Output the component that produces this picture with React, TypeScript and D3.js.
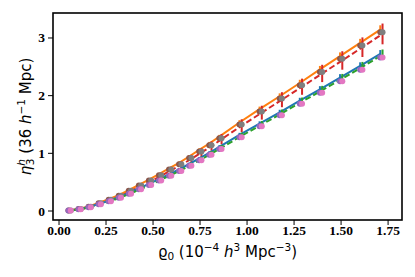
import React from "react";
import * as d3 from "d3";

const width = 415;
const height = 277;
const margin = { top: 13, right: 13, bottom: 57, left: 53 };

// density grid (dense up to 0.855, then every other step)
const rho = [
  0.05, 0.1035, 0.157, 0.2105, 0.264, 0.3175, 0.371, 0.4245, 0.478, 0.5315, 0.585, 0.6385,
  0.692, 0.7455, 0.799, 0.8525, 0.9595, 1.0665, 1.1735, 1.2805, 1.3875, 1.4945, 1.6015, 1.7085,
];

// upper set (orange / red / brown / gray)
const orangeLine = [
  0.012, 0.037, 0.08, 0.14, 0.205, 0.275, 0.36, 0.455, 0.545, 0.64, 0.74, 0.835,
  0.945, 1.06, 1.17, 1.29, 1.535, 1.765, 1.99, 2.22, 2.455, 2.685, 2.915, 3.145,
];
const orangeErr = [
  0.002, 0.003, 0.004, 0.006, 0.008, 0.01, 0.012, 0.014, 0.016, 0.018, 0.02, 0.022,
  0.024, 0.026, 0.028, 0.03, 0.04, 0.045, 0.05, 0.055, 0.06, 0.065, 0.07, 0.075,
];
const redLine = [
  0.01, 0.034, 0.073, 0.132, 0.19, 0.26, 0.345, 0.432, 0.52, 0.61, 0.71, 0.8,
  0.905, 1.015, 1.125, 1.245, 1.48, 1.705, 1.93, 2.155, 2.385, 2.61, 2.84, 3.07,
];
const redErr = [
  0.005, 0.008, 0.012, 0.017, 0.022, 0.028, 0.034, 0.04, 0.046, 0.052, 0.058, 0.064,
  0.07, 0.076, 0.082, 0.09, 0.11, 0.12, 0.13, 0.14, 0.15, 0.16, 0.17, 0.18,
];
const upperPts = [
  0.01, 0.035, 0.075, 0.135, 0.195, 0.265, 0.35, 0.44, 0.53, 0.62, 0.72, 0.81,
  0.92, 1.03, 1.14, 1.26, 1.5, 1.725, 1.95, 2.18, 2.41, 2.64, 2.87, 3.1,
];

// lower set (blue / green / purple / pink)
const blueLine = [
  0.01, 0.032, 0.068, 0.12, 0.178, 0.24, 0.312, 0.39, 0.47, 0.552, 0.635, 0.722,
  0.815, 0.912, 1.01, 1.113, 1.32, 1.515, 1.71, 1.913, 2.11, 2.313, 2.515, 2.725,
];
const blueErr = [
  0.002, 0.003, 0.004, 0.005, 0.007, 0.009, 0.011, 0.013, 0.015, 0.017, 0.019, 0.021,
  0.023, 0.025, 0.027, 0.029, 0.035, 0.04, 0.045, 0.05, 0.055, 0.06, 0.063, 0.066,
];
const greenLine = [
  0.009, 0.031, 0.067, 0.118, 0.175, 0.236, 0.307, 0.384, 0.462, 0.543, 0.625, 0.711,
  0.803, 0.899, 0.996, 1.098, 1.305, 1.5, 1.695, 1.897, 2.095, 2.297, 2.5, 2.71,
];
const greenErr = [
  0.004, 0.006, 0.008, 0.01, 0.013, 0.016, 0.019, 0.022, 0.025, 0.028, 0.031, 0.034,
  0.037, 0.04, 0.043, 0.046, 0.055, 0.06, 0.065, 0.07, 0.075, 0.08, 0.085, 0.09,
];
const lowerPts = [
  0.008, 0.03, 0.065, 0.115, 0.17, 0.23, 0.3, 0.375, 0.45, 0.53, 0.61, 0.695,
  0.785, 0.88, 0.975, 1.075, 1.28, 1.47, 1.66, 1.86, 2.05, 2.25, 2.45, 2.66,
];

const xTicks = [0, 0.25, 0.5, 0.75, 1.0, 1.25, 1.5, 1.75];
const yTicks = [0, 1, 2, 3];
const shift = 0.012; // second estimator drawn slightly to the right

const x = d3.scaleLinear().domain([-0.032, 1.824]).range([margin.left, width - margin.right]);
const y = d3.scaleLinear().domain([-0.156, 3.433]).range([height - margin.bottom, margin.top]);

const C = {
  blue: "#1f77b4",
  orange: "#ff7f0e",
  green: "#2ca02c",
  red: "#d62728",
  purple: "#9467bd",
  brown: "#8c564b",
  pink: "#e377c2",
  gray: "#7f7f7f",
};

function Series({ vals, err, color, dx, dash }: { vals: number[]; err: number[]; color: string; dx: number; dash?: string }) {
  const line = d3
    .line<number>()
    .x((_, i) => x(rho[i] + dx))
    .y((d) => y(d));
  return (
    <g>
      <path d={line(vals) || ""} fill="none" stroke={color} strokeWidth={2} strokeDasharray={dash} />
      {vals.map((v, i) => (
        <line
          key={i}
          x1={x(rho[i] + dx)}
          x2={x(rho[i] + dx)}
          y1={y(v - err[i])}
          y2={y(v + err[i])}
          stroke={color}
          strokeWidth={2}
        />
      ))}
    </g>
  );
}

function Dots({ vals, color, dx }: { vals: number[]; color: string; dx: number }) {
  return (
    <g>
      {vals.map((v, i) => (
        <circle key={i} cx={x(rho[i] + dx)} cy={y(v)} r={3} fill={color} />
      ))}
    </g>
  );
}

export default function App() {
  const x0 = margin.left;
  const x1 = width - margin.right;
  const y0 = height - margin.bottom;
  const y1 = margin.top;
  const tickFont = { fontFamily: "'Liberation Serif', serif", fontWeight: 700, fontSize: 13.5 };
  const labFont = { fontFamily: "'DejaVu Sans', sans-serif", fontSize: 15 };
  return (
    <svg width={width} height={height} style={{ position: "absolute", left: 0, top: 0 }}>
      <rect width={width} height={height} fill="#fff" />
      <Series vals={orangeLine} err={orangeErr} color={C.orange} dx={0} />
      <Series vals={redLine} err={redErr} color={C.red} dx={shift} dash="6,3" />
      <Series vals={blueLine} err={blueErr} color={C.blue} dx={0} />
      <Series vals={greenLine} err={greenErr} color={C.green} dx={shift} dash="6,3" />
      <Dots vals={upperPts} color={C.brown} dx={0} />
      <Dots vals={upperPts} color={C.gray} dx={shift} />
      <Dots vals={lowerPts} color={C.purple} dx={0} />
      <Dots vals={lowerPts} color={C.pink} dx={shift} />

      <rect x={x0} y={y1} width={x1 - x0} height={y0 - y1} fill="none" stroke="#000" strokeWidth={1.6} />

      {xTicks.map((t) => (
        <g key={t}>
          <line x1={x(t)} x2={x(t)} y1={y0} y2={y0 + 5} stroke="#000" strokeWidth={1} />
          <text x={x(t)} y={235} textAnchor="middle" {...tickFont}>
            {t.toFixed(2)}
          </text>
        </g>
      ))}
      {yTicks.map((t) => (
        <g key={t}>
          <line x1={x0 - 5} x2={x0} y1={y(t)} y2={y(t)} stroke="#000" strokeWidth={1} />
          <text x={x0 - 8} y={y(t) + 4.5} textAnchor="end" {...tickFont}>
            {t}
          </text>
        </g>
      ))}

      <text x={(x0 + x1) / 2} y={257} textAnchor="middle" {...labFont}>
        <tspan>ϱ</tspan>
        <tspan fontSize={10.5} dy={3}>0</tspan>
        <tspan dy={-3}> (10</tspan>
        <tspan fontSize={10.5} dy={-6}>−4</tspan>
        <tspan dy={6}> </tspan>
        <tspan fontStyle="italic">h</tspan>
        <tspan fontSize={10.5} dy={-6}>3</tspan>
        <tspan dy={6}> Mpc</tspan>
        <tspan fontSize={10.5} dy={-6}>−3</tspan>
        <tspan dy={6}>)</tspan>
      </text>

      <text transform={`translate(31,${(y0 + y1) / 2}) rotate(-90)`} textAnchor="middle" {...labFont}>
        <tspan fontStyle="italic">η</tspan>
        <tspan fontSize={10.5} dy={-6} fontStyle="italic">h</tspan>
        <tspan fontSize={10.5} dy={9} dx={-6}>3</tspan>
        <tspan dy={-3}> (36 </tspan>
        <tspan fontStyle="italic">h</tspan>
        <tspan fontSize={10.5} dy={-6}>−1</tspan>
        <tspan dy={6}> Mpc)</tspan>
      </text>
    </svg>
  );
}
